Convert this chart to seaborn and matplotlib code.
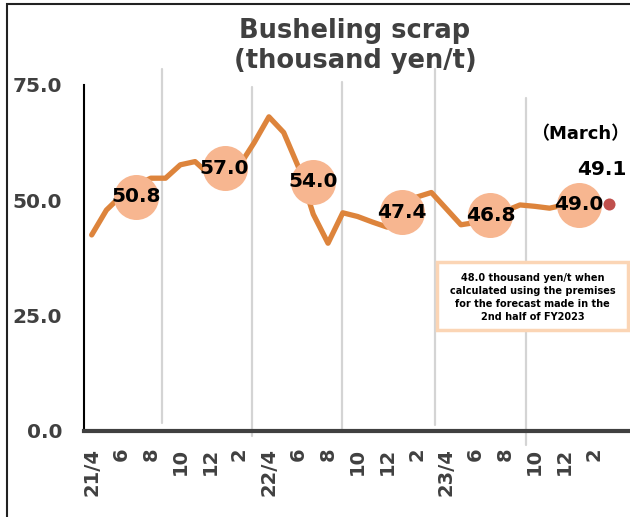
import matplotlib
matplotlib.use("Agg")
import matplotlib.pyplot as plt
from matplotlib.patches import Rectangle
import seaborn as sns
import pandas as pd

# Busheling scrap price, monthly (thousand yen/t), 21/4 .. 24/2
months = ['21/4', '5', '6', '7', '8', '9', '10', '11', '12', '1', '2', '3',
          '22/4', '5', '6', '7', '8', '9', '10', '11', '12', '1', '2', '3',
          '23/4', '5', '6', '7', '8', '9', '10', '11', '12', '1', '2', '3']
price = [42.5, 47.9, 51.0, 53.3, 54.8, 54.8, 57.7, 58.4, 55.5, 54.5, 57.5, 62.5,
         68.1, 64.7, 57.2, 47.0, 40.7, 47.3, 46.5, 45.3, 44.2, 46.0, 50.7, 51.7,
         48.2, 44.7, 45.2, 46.0, 47.7, 49.0, 48.7, 48.3, 49.0, 49.4, 49.5]
march_value = 49.1

# half-year averages, drawn at the middle month of each half
half_pos = [3, 9, 15, 21, 27, 33]
half_avg = [50.8, 57.0, 54.0, 47.4, 46.8, 49.0]

sns.set_style('white')
plt.rcParams['font.family'] = ['DejaVu Sans', 'Noto Sans CJK JP']

df = pd.DataFrame({'x': range(len(price)), 'price': price})
df_half = pd.DataFrame({'x': half_pos, 'avg': half_avg})
df_mar = pd.DataFrame({'x': [len(months) - 1], 'price': [march_value]})

fig = plt.figure(figsize=(6.3, 5.17), dpi=100)
ax = fig.add_axes([84.3 / 630, 86 / 517, 546.5 / 630, 346 / 517])

# hand drawn style vertical separators
for gx, top, bot in [(4.76, 78.5, 1.7), (10.85, 74.6, -1.1), (16.95, 75.7, -0.2),
                     (23.25, 78.5, 1.3), (29.4, 72.2, -3.0)]:
    ax.plot([gx, gx], [bot, top], color='#d4d4d4', lw=1.6, clip_on=False, zorder=1)

sns.lineplot(data=df, x='x', y='price', ax=ax, color='#DD843C', linewidth=3.8,
             zorder=3)
sns.scatterplot(data=df_half, x='x', y='avg', ax=ax, s=1050, color='#F7B690',
                linewidth=0, zorder=4)
sns.scatterplot(data=df_mar, x='x', y='price', ax=ax, s=75, color='#C0504D',
                linewidth=0, zorder=5)

for xx, v in zip(half_pos, half_avg):
    ax.text(xx, v, f'{v:.1f}', ha='center', va='center', fontsize=14.5,
            fontweight='bold', color='black', zorder=6)
ax.text(34.55, 56.6, f'{march_value:.1f}', ha='center', va='center',
        fontsize=14.5, fontweight='bold', color='black')
ax.text(33.1, 64.4, '（March）', ha='center', va='center', fontsize=13,
        fontweight='bold', color='black')

# note box
ax.add_patch(Rectangle((23.38, 21.9), 12.93, 14.7, facecolor='white',
                       edgecolor='#FBD5B5', lw=2.5, clip_on=False, zorder=7))
ax.text(29.85, 29.0, '48.0 thousand yen/t when\ncalculated using the premises\n'
        'for the forecast made in the\n2nd half of FY2023',
        ha='center', va='center', fontsize=7.0, fontweight='bold',
        linespacing=1.38, color='black', zorder=8)

ax.set_xlim(-0.5, 36.5)
ax.set_ylim(0, 75)
ax.set_xticks(range(37))
ax.set_xticklabels([m if i % 2 == 0 else '' for i, m in enumerate(months)] + [''],
                   rotation=90, fontsize=14, fontweight='bold', color='#404040')
ax.set_yticks([0, 25, 50, 75])
ax.set_yticklabels(['0.0', '25.0', '50.0', '75.0'], fontsize=14.5,
                   fontweight='bold', color='#404040')
ax.tick_params(axis='x', direction='in', length=4, width=2, color='#404040', pad=12)
ax.tick_params(axis='y', direction='in', length=5, width=1.3, color='black', pad=16)
ax.set_xlabel('')
ax.set_ylabel('')
sns.despine(ax=ax, top=True, right=True)
ax.spines['left'].set_color('black')
ax.spines['left'].set_linewidth(1.5)
ax.spines['bottom'].set_color('#404040')
ax.spines['bottom'].set_linewidth(3)
ax.patch.set_alpha(0)

fig.text(355 / 630, 1 - 46 / 517, 'Busheling scrap\n(thousand yen/t)', ha='center',
         va='center', fontsize=18.5, fontweight='bold', color='#404040',
         linespacing=1.15)

# outer frame of the slide chart
fig.patches.append(Rectangle((7 / 630, -0.1), 1.2, 1.1 - 4 / 517, transform=fig.transFigure,
                             fill=False, edgecolor='#222222', lw=1.5))

fig.savefig('out.png', dpi=100)
